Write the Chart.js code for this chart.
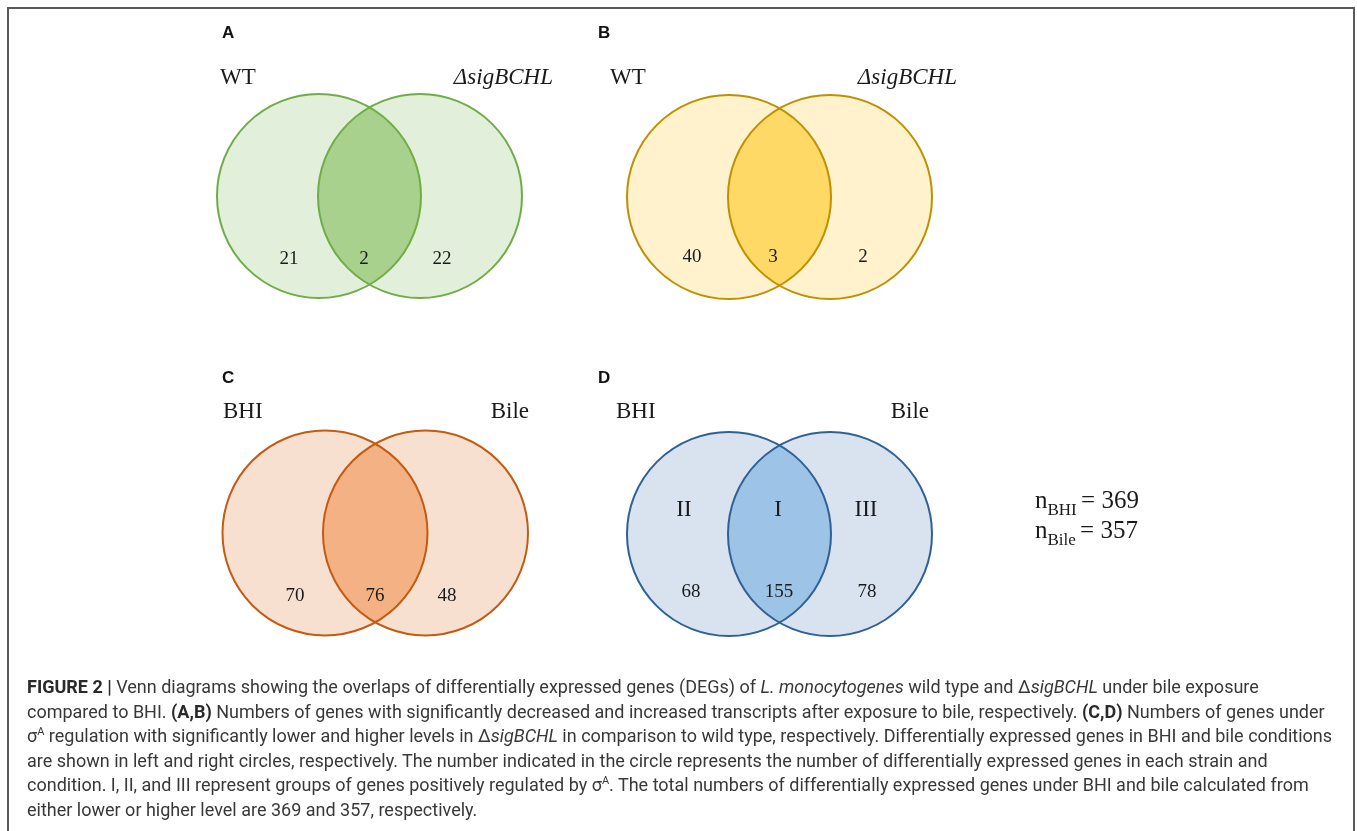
<!DOCTYPE html>
<html>
<head>
<meta charset="utf-8">
<script src="https://cdn.jsdelivr.net/npm/chart.js@4/dist/chart.umd.min.js"></script>
<style>
  html, body { margin: 0; padding: 0; background: #fff; width: 1357px; height: 831px; overflow: hidden; }
  #wrap { position: relative; width: 1357px; height: 831px; }
  #frame { position: absolute; left: 7px; top: 7px; width: 1348px; height: 900px; border: 2px solid #5a5a5a; box-sizing: border-box; }
  #venn { position: absolute; left: 0; top: 0; }
  #caption { position: absolute; left: 27px; top: 675px; font-family: Roboto, "Liberation Sans", sans-serif; font-size: 18px;
             color: #383838; line-height: 24.5px; white-space: nowrap; }
  #caption b { font-weight: 700; color: #2a2a2a; }
  #caption sup { font-size: 11px; line-height: 0; vertical-align: 7px; }
</style>
</head>
<body>
<div id="wrap">
  <div id="frame"></div>
  <canvas id="venn" width="1357" height="831"></canvas>
  <div id="caption">
    <div><b>FIGURE 2 |</b> Venn diagrams showing the overlaps of differentially expressed genes (DEGs) of <i>L. monocytogenes</i> wild type and Δ<i>sigBCHL</i> under bile exposure</div>
    <div>compared to BHI. <b>(A,B)</b> Numbers of genes with significantly decreased and increased transcripts after exposure to bile, respectively. <b>(C,D)</b> Numbers of genes under</div>
    <div>σ<sup>A</sup> regulation with significantly lower and higher levels in Δ<i>sigBCHL</i> in comparison to wild type, respectively. Differentially expressed genes in BHI and bile conditions</div>
    <div>are shown in left and right circles, respectively. The number indicated in the circle represents the number of differentially expressed genes in each strain and</div>
    <div>condition. I, II, and III represent groups of genes positively regulated by σ<sup>A</sup>. The total numbers of differentially expressed genes under BHI and bile calculated from</div>
    <div>either lower or higher level are 369 and 357, respectively.</div>
  </div>
</div>
<script>
// ---- Venn counts ----
const panelLetters    = ['A', 'B', 'C', 'D'];
const leftSetNames    = ['WT', 'WT', 'BHI', 'BHI'];
const rightSetNames   = ['ΔsigBCHL', 'ΔsigBCHL', 'Bile', 'Bile'];
const leftOnlyCounts  = [21, 40, 70, 68];
const sharedCounts    = [2, 3, 76, 155];
const rightOnlyCounts = [22, 2, 48, 78];
const groupNames      = ['II', 'I', 'III'];   // regions of panel D

// totals of panel C + D (lower + higher level)
const nBHI  = leftOnlyCounts[2] + sharedCounts[2] + leftOnlyCounts[3] + sharedCounts[3];
const nBile = rightOnlyCounts[2] + sharedCounts[2] + rightOnlyCounts[3] + sharedCounts[3];

// ---- geometry & styling of each panel (page units) ----
const layout = [
  { cx: [319, 420],   cy: 196, r: 102,   letter: [222, 33],  nameY: 84,  nameL: 220, nameR: 553, countY: 264, countX: [289, 364, 442] },
  { cx: [729, 830],   cy: 197, r: 102,   letter: [598, 33],  nameY: 84,  nameL: 610, nameR: 957, countY: 262, countX: [692, 773, 863] },
  { cx: [325, 425.5], cy: 533, r: 102.5, letter: [222, 378], nameY: 418, nameL: 223, nameR: 529, countY: 601, countX: [295, 375, 447] },
  { cx: [729, 830],   cy: 534, r: 102,   letter: [598, 378], nameY: 418, nameL: 616, nameR: 929, countY: 597, countX: [691, 779, 867],
    groupY: 516 }
];
const palette = [
  { stroke: '#70ad47', fill: '#e2efda', lens: '#a9d18e' },
  { stroke: '#bf9000', fill: '#fff2cc', lens: '#ffd966' },
  { stroke: '#c55a11', fill: '#f7e0d0', lens: '#f4b183' },
  { stroke: '#2f6196', fill: '#d9e3ef', lens: '#9dc3e6' }
];

const serif = '"Liberation Serif", "Times New Roman", serif';
const sans  = '"Liberation Sans", Arial, sans-serif';

const vennPlugin = {
  id: 'vennDiagram',
  afterDatasetsDraw(chart) {
    const { ctx, scales: { x, y } } = chart;
    const px = v => x.getPixelForValue(v);
    const py = v => y.getPixelForValue(v);

    layout.forEach((L, i) => {
      const col = palette[i];
      const rad = px(L.cx[0] + L.r) - px(L.cx[0]);
      const c0x = px(L.cx[0]), c1x = px(L.cx[1]), cyp = py(L.cy);
      const circle = cx => { ctx.beginPath(); ctx.arc(cx, cyp, rad, 0, Math.PI * 2); };

      ctx.save();
      // set fills
      ctx.fillStyle = col.fill;
      circle(c0x); ctx.fill();
      circle(c1x); ctx.fill();
      // intersection
      ctx.save();
      circle(c0x); ctx.clip();
      ctx.fillStyle = col.lens;
      circle(c1x); ctx.fill();
      ctx.restore();
      // outlines
      ctx.strokeStyle = col.stroke;
      ctx.lineWidth = 2;
      circle(c0x); ctx.stroke();
      circle(c1x); ctx.stroke();

      // panel letter
      ctx.fillStyle = '#111';
      ctx.font = 'bold 17px ' + sans;
      ctx.textAlign = 'left';
      ctx.textBaseline = 'middle';
      ctx.fillText(panelLetters[i], px(L.letter[0]), py(L.letter[1]));

      // set names
      ctx.textBaseline = 'alphabetic';
      ctx.font = '23px ' + serif;
      ctx.fillStyle = '#1a1a1a';
      ctx.textAlign = 'left';
      ctx.fillText(leftSetNames[i], px(L.nameL), py(L.nameY));
      ctx.textAlign = 'right';
      const rn = rightSetNames[i];
      ctx.font = (rn.startsWith('Δ') ? 'italic ' : '') + '23px ' + serif;
      ctx.fillText(rn, px(L.nameR), py(L.nameY));

      // counts
      ctx.font = '19px ' + serif;
      ctx.textAlign = 'center';
      ctx.fillStyle = '#1a1a1a';
      const vals = [leftOnlyCounts[i], sharedCounts[i], rightOnlyCounts[i]];
      vals.forEach((v, k) => ctx.fillText(String(v), px(L.countX[k]), py(L.countY)));

      // group numerals
      if (L.groupY) {
        ctx.font = '23px ' + serif;
        groupNames.forEach((g, k) => ctx.fillText(g, px(L.countX[k] - (k === 1 ? 1 : 7) + (k === 2 ? 6 : 0)), py(L.groupY)));
      }
      ctx.restore();
    });

    // totals beside panel D
    const drawTotal = (sub, val, xs, base) => {
      ctx.save();
      ctx.fillStyle = '#1a1a1a';
      ctx.textAlign = 'left';
      ctx.textBaseline = 'alphabetic';
      let cx = px(xs);
      ctx.font = '25px ' + serif;
      ctx.fillText('n', cx, py(base));
      cx += ctx.measureText('n').width;
      ctx.font = '17px ' + serif;
      ctx.fillText(sub, cx, py(base + 7));
      cx += ctx.measureText(sub).width;
      ctx.font = '25px ' + serif;
      ctx.fillText(' = ' + val, cx - 2, py(base));
      ctx.restore();
    };
    drawTotal('BHI', nBHI, 1035, 508);
    drawTotal('Bile', nBile, 1035, 538);
  }
};

// circle centres as chart points (hidden markers)
const centreData = layout.flatMap(L => L.cx.map(cx => ({ x: cx, y: L.cy })));

new Chart(document.getElementById('venn'), {
  type: 'scatter',
  data: { datasets: [{ data: centreData, pointRadius: 0, pointHoverRadius: 0 }] },
  options: {
    responsive: false,
    animation: false,
    events: [],
    layout: { padding: 0 },
    plugins: { legend: { display: false }, tooltip: { enabled: false } },
    scales: {
      x: { type: 'linear', min: 0, max: 1357, display: false },
      y: { type: 'linear', min: 0, max: 831, reverse: true, display: false }
    }
  },
  plugins: [vennPlugin]
});
</script>
</body>
</html>
